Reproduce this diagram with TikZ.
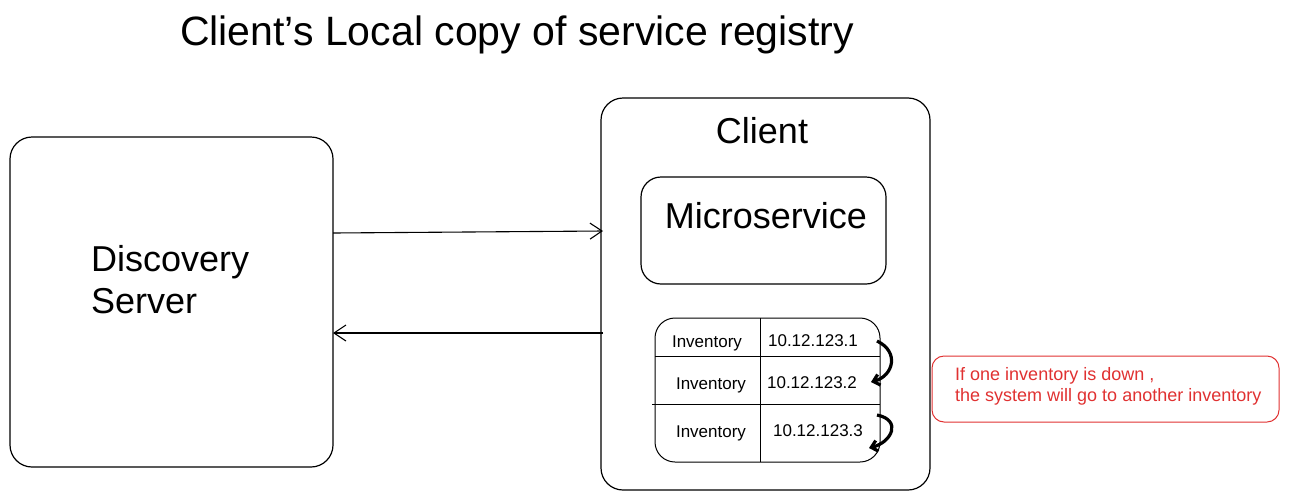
\documentclass[tikz,border=0pt]{standalone}
\usepackage{fontspec}
\setmainfont{Liberation Sans}
\usetikzlibrary{arrows.meta}
\definecolor{exred}{HTML}{E03131}
\begin{document}
\begin{tikzpicture}[x=1pt,y=-1pt,
  box/.style={draw=black, line width=1.2pt, rounded corners=22pt},
  lbl/.style={inner sep=0pt, font=\fontsize{36}{40}\selectfont},
  cell/.style={inner sep=0pt, font=\fontsize{17}{20}\selectfont},
  conn/.style={line width=1.1pt, -{Straight Barb[length=12pt,width=16pt]}},
  hop/.style={line width=3.2pt, -{Straight Barb[length=6pt,width=11pt,line width=3.2pt]}}]
\useasboundingbox (0,0) rectangle (1289,501);
% title
\node[inner sep=0pt, font=\fontsize{41}{45}\selectfont] (title) at (517,35) {Client's Local copy of service registry};
% discovery server
\draw[box] (10,137) rectangle (333,467);
\node[lbl, align=left, anchor=west] (dstext) at (91,280) {Discovery\\[2pt]Server};
% client
\draw[box] (601,98) rectangle (930,490);
\node[lbl] (client) at (762,131) {Client};
\draw[box, rounded corners=20pt] (641,177) rectangle (886,284);
\node[lbl] (micro) at (766,216) {Microservice};
% table
\draw[box, line width=1pt, rounded corners=20pt] (655,318) rectangle (880,462);
\draw[line width=1pt] (760,318) -- (760,462);
\draw[line width=1pt] (655,356) -- (880,356);
\draw[line width=1pt] (652,404) -- (880,404);
\node[cell] (i1) at (707,343) {Inventory};
\node[cell] (a1) at (813,341) {10.12.123.1};
\node[cell] (i2) at (711,385) {Inventory};
\node[cell] (a2) at (812,383) {10.12.123.2};
\node[cell] (i3) at (711,433) {Inventory};
\node[cell] (a3) at (818,431) {10.12.123.3};
% hop arrows
\coordinate (h1s) at (877,341);
\coordinate (h1e) at (871,382);
\coordinate (h2s) at (877,415);
\coordinate (h2e) at (869,448);
\draw[hop] (h1s) .. controls (900,352) and (893,376) .. (h1e);
\draw[hop] (h2s) .. controls (902,420) and (892,442) .. (h2e);
% note
\draw[draw=exred, line width=1pt, rounded corners=12pt] (932,356) rectangle (1279,422);
\node[inner sep=0pt, anchor=west, text=exred, align=left, font=\fontsize{18}{21}\selectfont] (note) at (955,386) {If one inventory is down ,\\the system will go to another inventory};
% connectors
\coordinate (c1s) at (333,233);
\coordinate (c1e) at (603,231);
\coordinate (c2s) at (603,333);
\coordinate (c2e) at (333,333);
\draw[conn] (c1s) -- (c1e);
\draw[conn] (c2s) -- (c2e);
\end{tikzpicture}
\end{document}
